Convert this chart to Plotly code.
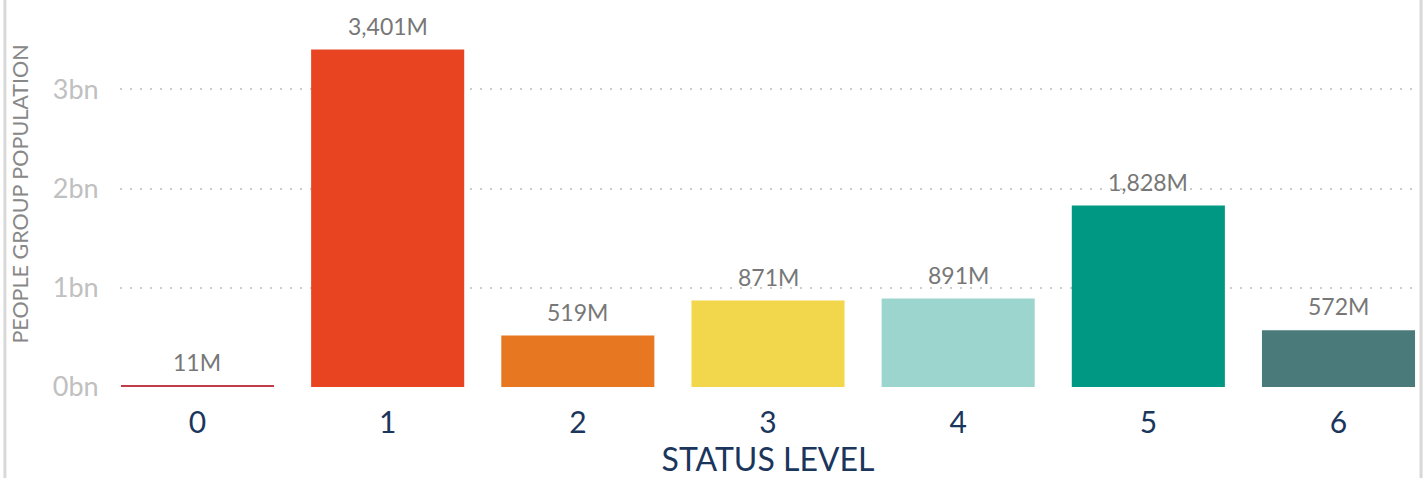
import plotly.graph_objects as go

categories = ["0", "1", "2", "3", "4", "5", "6"]
values = [11e6, 3401e6, 519e6, 871e6, 891e6, 1828e6, 572e6]
labels = ["11M", "3,401M", "519M", "871M", "891M", "1,828M", "572M"]
colors = ["#c23b4a", "#e84422", "#e87722", "#f2d64b", "#9bd5ce", "#009882", "#4a7a7a"]
y_tickvals = [0, 1e9, 2e9, 3e9]
y_ticktext = ["0bn", "1bn", "2bn", "3bn"]

FONT = "Lato"
xs = list(range(len(categories)))

fig = go.Figure(
    go.Bar(
        x=xs,
        y=values,
        marker=dict(color=colors, line=dict(width=0)),
        hoverinfo="skip",
    )
)

annotations = [
    dict(x=x, y=v, text=t, xref="x", yref="y", showarrow=False, yanchor="bottom",
         yshift=8, font=dict(family=FONT, size=23, color="#777777"))
    for x, v, t in zip(xs, values, labels)
]

fig.update_layout(
    width=1426,
    height=478,
    margin=dict(l=120, r=10, t=1, b=91),
    plot_bgcolor="white",
    paper_bgcolor="white",
    bargap=0.195,
    showlegend=False,
    font=dict(family=FONT),
    annotations=annotations,
    xaxis=dict(
        range=[-0.4075, 6.4075],
        tickvals=xs,
        ticktext=categories,
        tickfont=dict(family=FONT, size=30, color="#1b365d"),
        showgrid=False,
        zeroline=False,
        showline=False,
        ticks="outside",
        ticklen=9,
        tickcolor="rgba(0,0,0,0)",
        automargin=False,
        title=dict(text="STATUS LEVEL", font=dict(family=FONT, size=32, color="#1b365d"), standoff=20),
    ),
    yaxis=dict(
        range=[0, 3.89e9],
        tickvals=y_tickvals,
        ticktext=y_ticktext,
        tickfont=dict(family=FONT, size=27, color="#c0c0c0"),
        showgrid=True,
        gridcolor="#cccccc",
        gridwidth=2,
        griddash="2px,8px",
        zeroline=False,
        showline=False,
        ticks="outside",
        ticklen=15,
        tickcolor="rgba(0,0,0,0)",
        automargin=False,
        title=dict(text="PEOPLE GROUP POPULATION", font=dict(family=FONT, size=21.5, color="#888888"), standoff=18),
    ),
    shapes=[
        dict(type="line", xref="paper", yref="paper", x0=-0.0888, x1=-0.0888, y0=-0.3, y1=1.01,
             line=dict(color="#d8d8d8", width=3)),
        dict(type="line", xref="paper", yref="paper", x0=1.0039, x1=1.0039, y0=-0.3, y1=1.01,
             line=dict(color="#d8d8d8", width=3)),
    ],
)

fig.write_html(
    "out.html",
    config={"displayModeBar": False},
    post_script="document.body.style.margin='0';document.body.style.overflow='hidden';",
)
